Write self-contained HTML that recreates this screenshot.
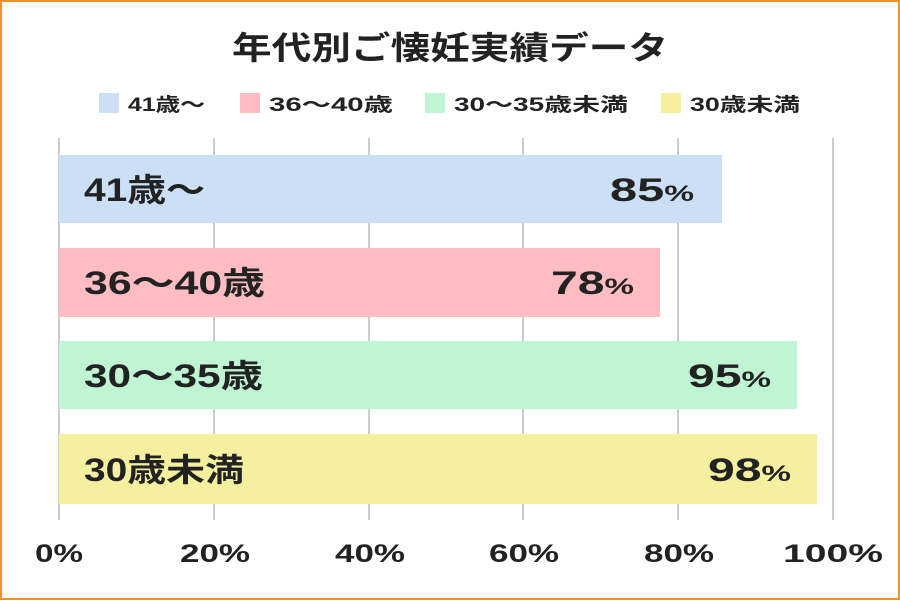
<!DOCTYPE html>
<html><head><meta charset="utf-8"><style>
body{margin:0;width:900px;height:600px;overflow:hidden;background:#fff}
</style></head><body>
<svg width="900" height="600" xmlns="http://www.w3.org/2000/svg" font-family="'Liberation Sans','Noto Sans CJK JP',sans-serif" font-weight="bold" fill="#222">
<rect x="1" y="1" width="898" height="598" fill="#fff" stroke="#f0902f" stroke-width="2"/>
<text x="232" y="59" font-size="32" textLength="436" lengthAdjust="spacingAndGlyphs">年代別ご懐妊実績データ</text>
<g font-size="19">
<rect x="99" y="93" width="20" height="20" fill="#cbdff5"/><text x="128" y="111" textLength="77" lengthAdjust="spacingAndGlyphs">41歳〜</text>
<rect x="240" y="93" width="20" height="20" fill="#ffbcc2"/><text x="269" y="111" textLength="124" lengthAdjust="spacingAndGlyphs">36〜40歳</text>
<rect x="425" y="93" width="20" height="20" fill="#bff5d3"/><text x="454" y="111" textLength="174" lengthAdjust="spacingAndGlyphs">30〜35歳未満</text>
<rect x="661" y="93" width="20" height="20" fill="#f5f0a0"/><text x="690" y="111" textLength="110" lengthAdjust="spacingAndGlyphs">30歳未満</text>
</g>
<g stroke="#cccccc" stroke-width="2">
<line x1="59" y1="138" x2="59" y2="520"/><line x1="214" y1="138" x2="214" y2="520"/><line x1="369" y1="138" x2="369" y2="520"/><line x1="523" y1="138" x2="523" y2="520"/><line x1="678" y1="138" x2="678" y2="520"/><line x1="833" y1="138" x2="833" y2="520"/>
</g>
<rect x="59" y="155" width="663" height="68" fill="#cbdff5"/>
<rect x="59" y="248" width="601" height="69" fill="#ffbcc2"/>
<rect x="59" y="341" width="738" height="68" fill="#bff5d3"/>
<rect x="59" y="434" width="758" height="70" fill="#f5f0a0"/>
<g font-size="32">
<text x="84" y="201" textLength="121" lengthAdjust="spacingAndGlyphs">41歳〜</text>
<text x="84" y="294" textLength="181" lengthAdjust="spacingAndGlyphs">36〜40歳</text>
<text x="84" y="387" textLength="179" lengthAdjust="spacingAndGlyphs">30〜35歳</text>
<text x="84" y="481" textLength="160" lengthAdjust="spacingAndGlyphs">30歳未満</text>
</g>
<g font-size="32">
<text x="610" y="201" textLength="84" lengthAdjust="spacingAndGlyphs">85<tspan font-size="22">%</tspan></text>
<text x="551" y="294" textLength="83" lengthAdjust="spacingAndGlyphs">78<tspan font-size="22">%</tspan></text>
<text x="688" y="387" textLength="83" lengthAdjust="spacingAndGlyphs">95<tspan font-size="22">%</tspan></text>
<text x="708" y="481" textLength="83" lengthAdjust="spacingAndGlyphs">98<tspan font-size="22">%</tspan></text>
</g>
<g font-size="25">
<text x="35" y="562" textLength="48" lengthAdjust="spacingAndGlyphs">0%</text>
<text x="180" y="562" textLength="70" lengthAdjust="spacingAndGlyphs">20%</text>
<text x="335" y="562" textLength="70" lengthAdjust="spacingAndGlyphs">40%</text>
<text x="489" y="562" textLength="70" lengthAdjust="spacingAndGlyphs">60%</text>
<text x="644" y="562" textLength="70" lengthAdjust="spacingAndGlyphs">80%</text>
<text x="783" y="562" textLength="100" lengthAdjust="spacingAndGlyphs">100%</text>
</g>
</svg>
</body></html>
